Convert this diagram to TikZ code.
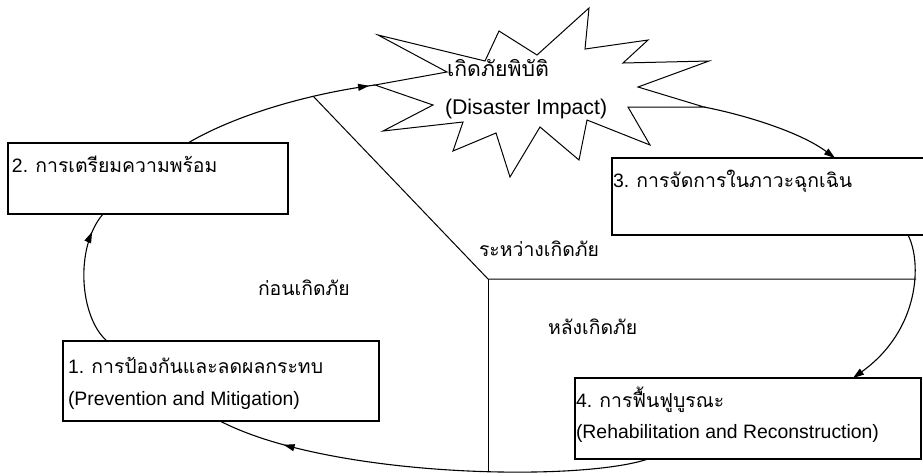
\documentclass[tikz,border=0pt]{standalone}
\usepackage{fontspec}
\setmainfont{Liberation Sans}
\newfontfamily\thai[Script=Thai]{Loma}
\usetikzlibrary{arrows.meta,decorations.markings}
\begin{document}
\begin{tikzpicture}[x=1pt,y=-1pt,line width=1.1pt,
  box/.style={draw,fill=white,anchor=north west,inner sep=0pt,outer sep=0pt},
  lbl/.style={anchor=base west,inner sep=0pt,outer sep=0pt,font=\fontsize{19.4}{21}\selectfont},
  biglbl/.style={lbl,font=\fontsize{21.3}{23}\selectfont},
  tip/.style={-{Triangle[length=11pt,width=7pt]}},
  midtip/.style={postaction={decorate},decoration={markings,mark=at position #1 with {\arrow{Triangle[length=11pt,width=7pt]}}}}]
\useasboundingbox (0,0) rectangle (923,475);
\fill[white] (0,0) rectangle (923,475);

% phase dividers
\coordinate (cc) at (488,279);
\coordinate (dTop) at (313,96);
\coordinate (dRight) at (916,279);
\coordinate (dBot) at (488,471);
\draw[line width=1pt] (dTop) -- (cc) -- (dRight);
\draw[line width=1pt] (cc) -- (dBot);

% boxes
\node[box,minimum width=316pt,minimum height=80pt] (b1) at (63,341) {};
\node[box,minimum width=280pt,minimum height=71pt] (b2) at (8,143) {};
\node[box,minimum width=313pt,minimum height=77pt] (b3) at (612,158) {};
\node[box,minimum width=346pt,minimum height=81pt] (b4) at (575,378) {};

% starburst
\draw[fill=white,line width=1pt,line join=miter]
  (375,85) -- (447,72) -- (378,35) -- (485,61) -- (499,31) -- (537,55) --
  (589,8) -- (585,49) -- (648,40) -- (623,63) -- (709,61) -- (638,87) --
  (704,107) -- (628,107) -- (650,145) -- (587,120) -- (579,160) -- (540,127) --
  (510,177) -- (496,133) -- (453,151) -- (463,122) -- (383,131) -- (433,105) -- cycle;
\coordinate (sL) at (375,85);
\coordinate (sR) at (704,107);

% connectors
\draw[midtip=-21pt] ([xshift=44pt]b1.north west) .. controls (80,318) and (74,248) .. ([xshift=95pt]b2.south west);
\draw[midtip=-6pt] ([xshift=180pt]b2.north west) .. controls (230,118) and (300,95) .. (sL);
\draw[tip] (sR) .. controls (745,115) and (800,132) .. ([xshift=223pt]b3.north west);
\draw[tip] ([xshift=296pt]b3.south west) .. controls (922,262) and (920,330) .. ([xshift=278pt]b4.north west);
\draw[midtip=-68pt] ([xshift=73pt]b4.south west) .. controls (580,482) and (330,478) .. ([xshift=157pt]b1.south west);

% texts
\node[biglbl] (tStar1) at (447,76) {\thai เกิดภัยพิบัติ};
\node[biglbl] (tStar2) at (445,114) {(Disaster Impact)};
\node[lbl] (t2) at (12,172) {2. {\thai การเตรียมความพร้อม}};
\node[lbl] (t3) at (613,187) {3. {\thai การจัดการในภาวะฉุกเฉิน}};
\node[lbl] (t1a) at (68,373) {1. {\thai การป้องกันและลดผลกระทบ}};
\node[lbl] (t1b) at (68,405) {(Prevention and Mitigation)};
\node[lbl] (t4a) at (576,407) {4. {\thai การฟื้นฟูบูรณะ}};
\node[lbl] (t4b) at (576,438) {(Rehabilitation and Reconstruction)};
\node[lbl] (pBefore) at (258,295) {\thai ก่อนเกิดภัย};
\node[lbl] (pDuring) at (479,256) {\thai ระหว่างเกิดภัย};
\node[lbl] (pAfter) at (548,334) {\thai หลังเกิดภัย};
\end{tikzpicture}
\end{document}
